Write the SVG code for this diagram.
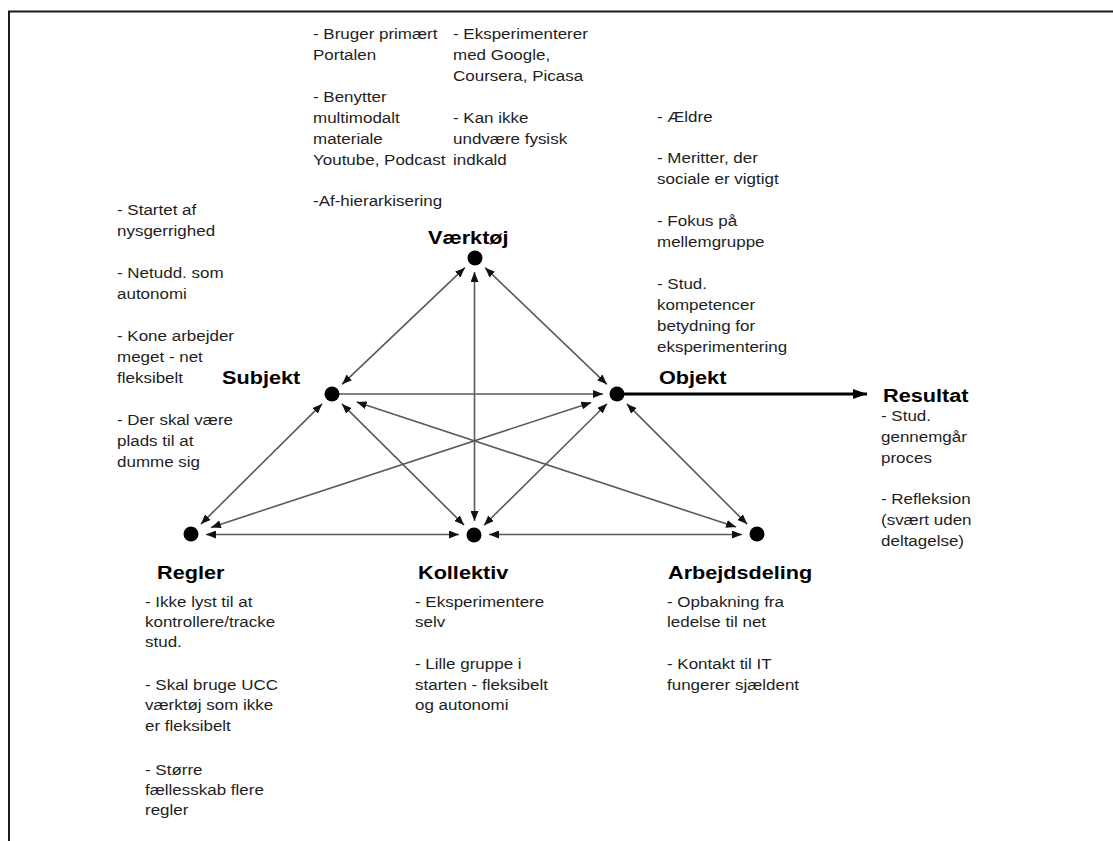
<svg xmlns="http://www.w3.org/2000/svg" width="1113" height="841" viewBox="0 0 1113 841">
  <defs>
    <style>
      .note { font-family: "Liberation Sans", Arial, sans-serif; font-size: 15.5px; fill: #1e1e1e; }
      .title { font-family: "Liberation Sans", Arial, sans-serif; font-size: 19px; font-weight: bold; fill: #000; }
      .edge { stroke: #5a5a5a; stroke-width: 1.6; fill: none; marker-start: url(#head); marker-end: url(#head); }
      .edge.one { marker-start: none; }
      .dot { fill: #000; }
      .frame { stroke: #1a1a1a; stroke-width: 2; fill: none; }
    </style>
    <marker id="head" viewBox="0 0 10 8" refX="10" refY="4" markerWidth="10" markerHeight="8" markerUnits="userSpaceOnUse" orient="auto-start-reverse">
      <path d="M0,0 L10,4 L0,8 Z" fill="#111"/>
    </marker>
    <marker id="bighead" viewBox="0 0 14 10" refX="14" refY="5" markerWidth="14" markerHeight="10" markerUnits="userSpaceOnUse" orient="auto">
      <path d="M0,0 L14,5 L0,10 Z" fill="#000"/>
    </marker>
    <clipPath id="objclip">
      <rect x="600" y="90" width="300" height="265"/>
    </clipPath>
  </defs>

  <rect width="1113" height="841" fill="#fff"/>

  <!-- page frame: top and left rules -->
  <path class="frame" d="M9,841 L9,11.5 L1113,11.5"/>

  <!-- connectors -->
  <g id="connectors">
    <line class="edge" x1="464.9" y1="267.7" x2="342.1" y2="384.3"/>
    <line class="edge" x1="485.1" y1="267.7" x2="606.9" y2="384.3"/>
    <line class="edge" x1="474.5" y1="272" x2="474.5" y2="521"/>
    <line class="edge one" x1="338" y1="394" x2="603" y2="394"/>
    <line class="edge" x1="322.1" y1="403.9" x2="200.9" y2="524.1"/>
    <line class="edge" x1="341.9" y1="403.9" x2="464.1" y2="525.1"/>
    <line class="edge" x1="356.7" y1="402.1" x2="736.1" y2="527.1"/>
    <line class="edge" x1="591.3" y1="402.4" x2="211" y2="527.4"/>
    <line class="edge" x1="607" y1="403.8" x2="484" y2="525.2"/>
    <line class="edge" x1="626.9" y1="403.9" x2="747.1" y2="524.1"/>
    <line class="edge" x1="206" y1="534.5" x2="459" y2="534.5"/>
    <line class="edge" x1="489" y1="534.5" x2="742" y2="534.5"/>
    <line x1="617" y1="394" x2="867" y2="394" stroke="#000" stroke-width="3.2" marker-end="url(#bighead)"/>
  </g>

  <!-- Værktøj -->
  <g id="vaerktoej">
    <circle class="dot" cx="475" cy="258" r="7.5"/>
    <text class="title" transform="translate(428,0) scale(1.14,1)"><tspan x="0" y="244">Værktøj</tspan></text>
    <text class="note" transform="translate(313,0) scale(1.095,1)">
      <tspan x="0" y="39">- Bruger primært</tspan>
      <tspan x="0" y="60">Portalen</tspan>
      <tspan x="0" y="102">- Benytter</tspan>
      <tspan x="0" y="123">multimodalt</tspan>
      <tspan x="0" y="144">materiale</tspan>
      <tspan x="0" y="165">Youtube, Podcast</tspan>
      <tspan x="0" y="206">-Af-hierarkisering</tspan>
    </text>
    <text class="note" transform="translate(453,0) scale(1.095,1)">
      <tspan x="0" y="39">- Eksperimenterer</tspan>
      <tspan x="0" y="60">med Google,</tspan>
      <tspan x="0" y="81">Coursera, Picasa</tspan>
      <tspan x="0" y="123">- Kan ikke</tspan>
      <tspan x="0" y="144">undvære fysisk</tspan>
      <tspan x="0" y="165">indkald</tspan>
    </text>
  </g>

  <!-- Subjekt -->
  <g id="subjekt">
    <circle class="dot" cx="332" cy="394" r="7.5"/>
    <text class="title" transform="translate(222,0) scale(1.14,1)"><tspan x="0" y="384">Subjekt</tspan></text>
    <text class="note" transform="translate(117,0) scale(1.095,1)">
      <tspan x="0" y="215">- Startet af</tspan>
      <tspan x="0" y="236">nysgerrighed</tspan>
      <tspan x="0" y="278">- Netudd. som</tspan>
      <tspan x="0" y="299">autonomi</tspan>
      <tspan x="0" y="341">- Kone arbejder</tspan>
      <tspan x="0" y="362">meget - net</tspan>
      <tspan x="0" y="383">fleksibelt</tspan>
      <tspan x="0" y="425">- Der skal være</tspan>
      <tspan x="0" y="446">plads til at</tspan>
      <tspan x="0" y="467">dumme sig</tspan>
    </text>
  </g>

  <!-- Objekt -->
  <g id="objekt">
    <circle class="dot" cx="617" cy="394" r="7.5"/>
    <text class="title" transform="translate(659,0) scale(1.14,1)"><tspan x="0" y="384">Objekt</tspan></text>
    <g clip-path="url(#objclip)">
      <text class="note" transform="translate(657,0) scale(1.095,1)">
        <tspan x="0" y="122">- Ældre</tspan>
        <tspan x="0" y="163">- Meritter, der</tspan>
        <tspan x="0" y="184">sociale er vigtigt</tspan>
        <tspan x="0" y="226">- Fokus på</tspan>
        <tspan x="0" y="247">mellemgruppe</tspan>
        <tspan x="0" y="289">- Stud.</tspan>
        <tspan x="0" y="310">kompetencer</tspan>
        <tspan x="0" y="331">betydning for</tspan>
        <tspan x="0" y="352">eksperimentering</tspan>
      </text>
    </g>
  </g>

  <!-- Resultat -->
  <g id="resultat">
    <text class="title" transform="translate(883,0) scale(1.14,1)"><tspan x="0" y="402">Resultat</tspan></text>
    <text class="note" transform="translate(881,0) scale(1.095,1)">
      <tspan x="0" y="421">- Stud.</tspan>
      <tspan x="0" y="442">gennemgår</tspan>
      <tspan x="0" y="463">proces</tspan>
      <tspan x="0" y="504">- Refleksion</tspan>
      <tspan x="0" y="525">(svært uden</tspan>
      <tspan x="0" y="546">deltagelse)</tspan>
    </text>
  </g>

  <!-- Regler -->
  <g id="regler">
    <circle class="dot" cx="191" cy="534" r="7.5"/>
    <text class="title" transform="translate(157,0) scale(1.14,1)"><tspan x="0" y="579">Regler</tspan></text>
    <text class="note" transform="translate(145,0) scale(1.095,1)">
      <tspan x="0" y="607">- Ikke lyst til at</tspan>
      <tspan x="0" y="627">kontrollere/tracke</tspan>
      <tspan x="0" y="647">stud.</tspan>
      <tspan x="0" y="690">- Skal bruge UCC</tspan>
      <tspan x="0" y="710">værktøj som ikke</tspan>
      <tspan x="0" y="731">er fleksibelt</tspan>
      <tspan x="0" y="775">- Større</tspan>
      <tspan x="0" y="795">fællesskab flere</tspan>
      <tspan x="0" y="815">regler</tspan>
    </text>
  </g>

  <!-- Kollektiv -->
  <g id="kollektiv">
    <circle class="dot" cx="474" cy="535" r="7.5"/>
    <text class="title" transform="translate(418,0) scale(1.14,1)"><tspan x="0" y="579">Kollektiv</tspan></text>
    <text class="note" transform="translate(415,0) scale(1.095,1)">
      <tspan x="0" y="607">- Eksperimentere</tspan>
      <tspan x="0" y="627">selv</tspan>
      <tspan x="0" y="669">- Lille gruppe i</tspan>
      <tspan x="0" y="690">starten - fleksibelt</tspan>
      <tspan x="0" y="710">og autonomi</tspan>
    </text>
  </g>

  <!-- Arbejdsdeling -->
  <g id="arbejdsdeling">
    <circle class="dot" cx="757" cy="534" r="7.5"/>
    <text class="title" transform="translate(668,0) scale(1.14,1)"><tspan x="0" y="579">Arbejdsdeling</tspan></text>
    <text class="note" transform="translate(667,0) scale(1.095,1)">
      <tspan x="0" y="607">- Opbakning fra</tspan>
      <tspan x="0" y="627">ledelse til net</tspan>
      <tspan x="0" y="669">- Kontakt til IT</tspan>
      <tspan x="0" y="690">fungerer sjældent</tspan>
    </text>
  </g>
</svg>
